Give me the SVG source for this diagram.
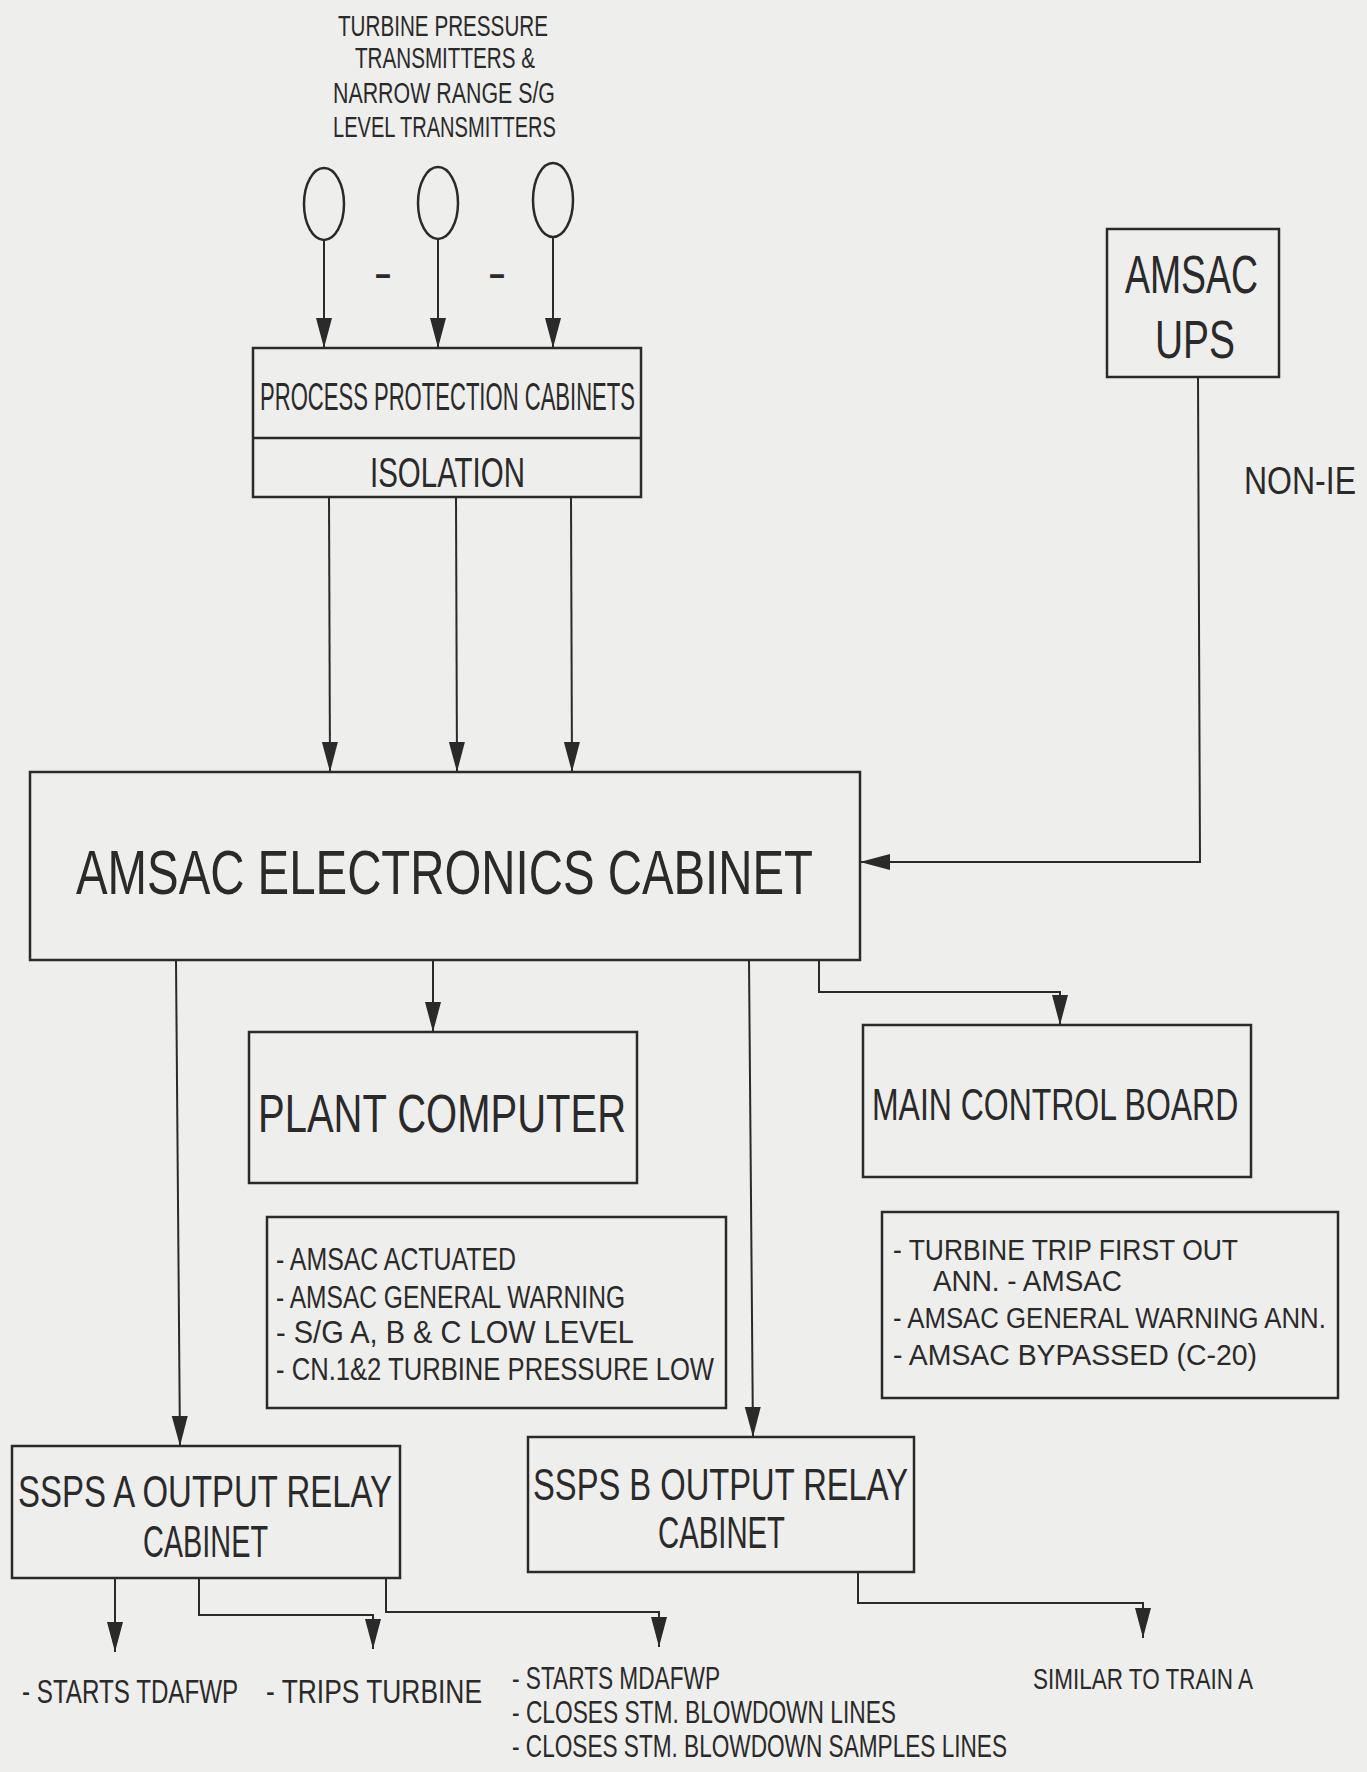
<svg xmlns="http://www.w3.org/2000/svg" width="1367" height="1772" viewBox="0 0 1367 1772">
<style>
  .box { fill: none; stroke: #2a2a2a; stroke-width: 2.5; }
  .con { fill: none; stroke: #2a2a2a; stroke-width: 2; }
  text { font-family: "Liberation Sans", Arial, sans-serif; fill: #2a2a2a; }
</style>
<defs>
  <marker id="ah" viewBox="0 0 30 18" refX="30" refY="9" markerWidth="30" markerHeight="18" markerUnits="userSpaceOnUse" orient="auto">
    <path d="M0,1 L30,9 L0,17 Z" fill="#2a2a2a"/>
  </marker>
</defs>
<rect x="0" y="0" width="1367" height="1772" fill="#eeeeec"/>

<g id="transmitters-label">
  <text x="338" y="36" font-size="29" textLength="210" lengthAdjust="spacingAndGlyphs">TURBINE PRESSURE</text>
  <text x="355" y="68" font-size="29" textLength="180" lengthAdjust="spacingAndGlyphs">TRANSMITTERS &amp;</text>
  <text x="333" y="103" font-size="29" textLength="222" lengthAdjust="spacingAndGlyphs">NARROW RANGE S/G</text>
  <text x="333" y="137" font-size="29" textLength="223" lengthAdjust="spacingAndGlyphs">LEVEL TRANSMITTERS</text>
</g>

<g id="transmitter-1"><ellipse class="box" cx="324" cy="204" rx="20" ry="36"/></g>
<g id="transmitter-2"><ellipse class="box" cx="438" cy="203" rx="20" ry="36"/></g>
<g id="transmitter-3"><ellipse class="box" cx="553" cy="200" rx="20" ry="37"/></g>
<g id="ellipsis-dashes">
  <text x="374" y="284" font-size="32" font-weight="bold" textLength="18" lengthAdjust="spacingAndGlyphs">-</text>
  <text x="488" y="284" font-size="32" font-weight="bold" textLength="18" lengthAdjust="spacingAndGlyphs">-</text>
</g>

<g id="process-protection">
  <rect class="box" x="253" y="348" width="388" height="149"/>
  <line class="box" x1="253" y1="438" x2="641" y2="438"/>
  <text x="260" y="410" font-size="38" textLength="375" lengthAdjust="spacingAndGlyphs">PROCESS PROTECTION CABINETS</text>
  <text x="370" y="487" font-size="42" textLength="155" lengthAdjust="spacingAndGlyphs">ISOLATION</text>
</g>

<g id="amsac-ups">
  <rect class="box" x="1107" y="229" width="172" height="148"/>
  <text x="1125" y="293" font-size="53" textLength="133" lengthAdjust="spacingAndGlyphs">AMSAC</text>
  <text x="1155" y="358" font-size="53" textLength="80" lengthAdjust="spacingAndGlyphs">UPS</text>
</g>

<g id="non-ie-label">
  <text transform="translate(1244,494) scale(0.842,1)" font-size="38" textLength="133" lengthAdjust="spacingAndGlyphs">NON-IE</text>
</g>

<g id="electronics-cabinet">
  <rect class="box" x="30" y="772" width="830" height="188"/>
  <text x="76" y="894" font-size="63" textLength="737" lengthAdjust="spacingAndGlyphs">AMSAC ELECTRONICS CABINET</text>
</g>

<g id="plant-computer">
  <rect class="box" x="249" y="1032" width="388" height="151"/>
  <text x="258" y="1132" font-size="53" textLength="368" lengthAdjust="spacingAndGlyphs">PLANT COMPUTER</text>
</g>

<g id="main-control-board">
  <rect class="box" x="863" y="1025" width="388" height="152"/>
  <text transform="translate(872,1120) scale(0.707,1)" font-size="45" textLength="518" lengthAdjust="spacingAndGlyphs">MAIN CONTROL BOARD</text>
</g>

<g id="plant-computer-notes">
  <rect class="box" x="267" y="1217" width="459" height="191"/>
  <text x="276" y="1270" font-size="31" textLength="240" lengthAdjust="spacingAndGlyphs">- AMSAC ACTUATED</text>
  <text x="276" y="1308" font-size="31" textLength="349" lengthAdjust="spacingAndGlyphs">- AMSAC GENERAL WARNING</text>
  <text x="276" y="1343" font-size="31" textLength="358" lengthAdjust="spacingAndGlyphs">- S/G A, B &amp; C LOW LEVEL</text>
  <text x="276" y="1380" font-size="31" textLength="438" lengthAdjust="spacingAndGlyphs">- CN.1&amp;2 TURBINE PRESSURE LOW</text>
</g>

<g id="main-control-board-notes">
  <rect class="box" x="882" y="1212" width="456" height="186"/>
  <text x="893" y="1260" font-size="29" textLength="345" lengthAdjust="spacingAndGlyphs">- TURBINE TRIP FIRST OUT</text>
  <text x="933" y="1291" font-size="29" textLength="189" lengthAdjust="spacingAndGlyphs">ANN. - AMSAC</text>
  <text transform="translate(893,1328) scale(0.878,1)" font-size="29" textLength="493" lengthAdjust="spacingAndGlyphs">- AMSAC GENERAL WARNING ANN.</text>
  <text x="893" y="1365" font-size="29" textLength="364" lengthAdjust="spacingAndGlyphs">- AMSAC BYPASSED (C-20)</text>
</g>

<g id="ssps-a">
  <rect class="box" x="12" y="1446" width="388" height="132"/>
  <text x="18" y="1507" font-size="45" textLength="374" lengthAdjust="spacingAndGlyphs">SSPS A OUTPUT RELAY</text>
  <text x="143" y="1557" font-size="45" textLength="125" lengthAdjust="spacingAndGlyphs">CABINET</text>
</g>

<g id="ssps-b">
  <rect class="box" x="528" y="1437" width="386" height="135"/>
  <text x="533" y="1500" font-size="45" textLength="375" lengthAdjust="spacingAndGlyphs">SSPS B OUTPUT RELAY</text>
  <text x="658" y="1548" font-size="45" textLength="127" lengthAdjust="spacingAndGlyphs">CABINET</text>
</g>

<g id="ssps-a-outputs">
  <text transform="translate(22,1703) scale(0.723,1)" font-size="33" textLength="299" lengthAdjust="spacingAndGlyphs">- STARTS TDAFWP</text>
  <text transform="translate(266,1703) scale(0.797,1)" font-size="33" textLength="271" lengthAdjust="spacingAndGlyphs">- TRIPS TURBINE</text>
  <text x="512" y="1689" font-size="31" textLength="208" lengthAdjust="spacingAndGlyphs">- STARTS MDAFWP</text>
  <text x="512" y="1723" font-size="31" textLength="384" lengthAdjust="spacingAndGlyphs">- CLOSES STM. BLOWDOWN LINES</text>
  <text x="512" y="1757" font-size="31" textLength="495" lengthAdjust="spacingAndGlyphs">- CLOSES STM. BLOWDOWN SAMPLES LINES</text>
</g>

<g id="ssps-b-outputs">
  <text x="1033" y="1689" font-size="29" textLength="220" lengthAdjust="spacingAndGlyphs">SIMILAR TO TRAIN A</text>
</g>

<g id="connectors">
  <line class="con" x1="324" y1="240" x2="324" y2="348" marker-end="url(#ah)"/>
  <line class="con" x1="438" y1="239" x2="438" y2="348" marker-end="url(#ah)"/>
  <line class="con" x1="553" y1="237" x2="553" y2="348" marker-end="url(#ah)"/>
  <line class="con" x1="329" y1="497" x2="330" y2="772" marker-end="url(#ah)"/>
  <line class="con" x1="456" y1="497" x2="457" y2="772" marker-end="url(#ah)"/>
  <line class="con" x1="571" y1="497" x2="572" y2="772" marker-end="url(#ah)"/>
  <polyline class="con" points="1198,377 1200,862 860,862" marker-end="url(#ah)"/>
  <line class="con" x1="433" y1="960" x2="433" y2="1032" marker-end="url(#ah)"/>
  <polyline class="con" points="819,960 819,992 1060,992 1060,1025" marker-end="url(#ah)"/>
  <line class="con" x1="176" y1="960" x2="180" y2="1446" marker-end="url(#ah)"/>
  <line class="con" x1="749" y1="960" x2="753" y2="1437" marker-end="url(#ah)"/>
  <line class="con" x1="115" y1="1578" x2="115" y2="1652" marker-end="url(#ah)"/>
  <polyline class="con" points="199,1578 199,1615 373,1615 373,1649" marker-end="url(#ah)"/>
  <polyline class="con" points="386,1578 386,1612 659,1612 659,1647" marker-end="url(#ah)"/>
  <polyline class="con" points="858,1572 858,1603 1143,1603 1143,1638" marker-end="url(#ah)"/>
</g>
</svg>
